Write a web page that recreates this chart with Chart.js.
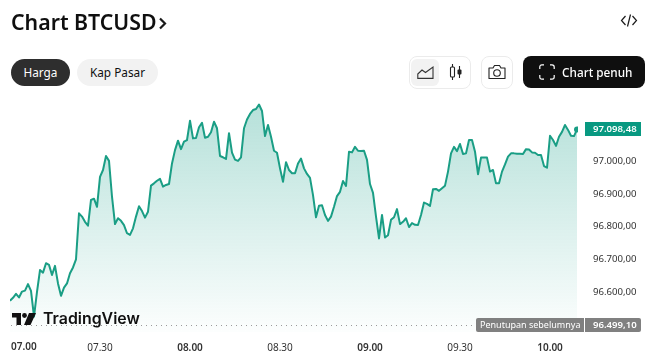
<!DOCTYPE html>
<html><head><meta charset="utf-8">
<style>
html,body{margin:0;padding:0;background:#fff;width:659px;height:362px;overflow:hidden;font-family:"Noto Sans",sans-serif}
#c{position:absolute;left:0;top:0;width:659px;height:362px}
.abs{position:absolute;box-sizing:border-box}
.pill{height:27px;top:59px;border-radius:14px;font-size:11.8px;line-height:27px;text-align:center}
svg{position:absolute;overflow:visible}
</style></head><body>
<div style="position:relative;width:659px;height:362px">
<canvas id="c" width="659" height="362"></canvas>
<div class="abs" style="left:11px;top:6px;font-size:21.3px;font-weight:600;color:#0f0f0f;line-height:32px;white-space:nowrap">Chart BTCUSD</div>
<svg style="left:158px;top:16px" width="10" height="14" viewBox="0 0 10 14"><path d="M2 2.5 L7 7.5 L2 12.5" fill="none" stroke="#1a1a1a" stroke-width="2.2"/></svg>
<svg style="left:620px;top:13px" width="18" height="15" viewBox="0 0 18 15"><path d="M5.5 3 L1.5 7.5 L5.5 12 M12.5 3 L16.5 7.5 L12.5 12 M10.5 1.5 L7.5 13.5" fill="none" stroke="#1a1a1a" stroke-width="1.2"/></svg>
<div class="abs pill" style="left:11px;width:59px;background:#2e2e2e;color:#fff">Harga</div>
<div class="abs pill" style="left:77px;width:81px;background:#f2f2f2;color:#0f0f0f">Kap Pasar</div>
<div class="abs" style="left:409px;top:56px;width:62px;height:33px;border:1px solid #ebebeb;border-radius:8px"></div>
<div class="abs" style="left:411px;top:59px;width:28px;height:27px;background:#f2f2f2;border-radius:6px"></div>
<svg style="left:417px;top:66px" width="17" height="13" viewBox="0 0 17 13"><path d="M.8 8 L5 4 L8.5 6.5 L16 1 V12.4 H.8 Z" fill="none" stroke="#333" stroke-width="1.1"/></svg>
<svg style="left:449px;top:64px" width="14" height="16" viewBox="0 0 14 16"><path d="M3.5 0 V16 M10.5 2 V14" stroke="#222" stroke-width="1.1"/><rect x="1.5" y="3" width="4" height="10" rx="1" fill="#fff" stroke="#222" stroke-width="1.1"/><rect x="8.5" y="5.5" width="4" height="5" rx="1" fill="#222"/></svg>
<div class="abs" style="left:481px;top:56px;width:32px;height:33px;border:1px solid #ebebeb;border-radius:8px"></div>
<svg style="left:488px;top:64px" width="18" height="16" viewBox="0 0 18 16"><path d="M1 4 H5 L6.5 1.5 H11.5 L13 4 H17 V14.5 H1 Z" fill="none" stroke="#222" stroke-width="1.1" stroke-linejoin="round"/><circle cx="9" cy="9" r="3.3" fill="none" stroke="#222" stroke-width="1.1"/></svg>
<div class="abs" style="left:523px;top:56px;width:122px;height:32px;background:#0f0f0f;border-radius:8px"></div>
<svg style="left:539px;top:64px" width="16" height="16" viewBox="0 0 16 16"><path d="M.8 5 V3 Q.8 .8 3 .8 H5 M11 .8 H13 Q15.2 .8 15.2 3 V5 M15.2 11 V13 Q15.2 15.2 13 15.2 H11 M5 15.2 H3 Q.8 15.2 .8 13 V11" fill="none" stroke="#fff" stroke-width="1.2"/></svg>
<div class="abs" style="left:562px;top:56px;height:32px;line-height:32px;font-size:11.8px;font-weight:500;color:#fff;white-space:nowrap">Chart penuh</div>
<svg style="left:12px;top:313px" width="24" height="12" viewBox="0 0 24 12"><path d="M0 0 H9 V12 H4.5 V4.5 H0 Z M17 0 H24 L18.5 12 H12 Z" fill="#111"/><circle cx="12.5" cy="2.5" r="2.4" fill="#111"/></svg>
<div class="abs" style="left:43px;top:308px;font-family:Inter,sans-serif;font-size:15.9px;font-weight:600;line-height:22px;color:#111;white-space:nowrap">TradingView</div>
</div>
<script src="https://cdn.jsdelivr.net/npm/chart.js@4/dist/chart.umd.min.js"></script>
<script>
const xTickMinutes = [0, 30, 60, 90, 120, 150, 180];
const xTickLabels = ["07.00", "07.30", "08.00", "08.30", "09.00", "09.30", "10.00"];
const yTickValues = [96600, 96700, 96800, 96900, 97000];
const previousClose = 96499.10;
const lastPrice = 97098.48;
const prices = [
96573,96582,96594,96583,96601,96604,96624,96603,96524,96600,
96667,96659,96688,96683,96652,96680,96626,96588,96613,96626,
96657,96675,96700,96841,96831,96815,96803,96882,96886,96861,
96953,96974,97017,97002,96892,96808,96826,96818,96805,96780,
96775,96795,96831,96863,96848,96828,96846,96926,96933,96941,
96947,96923,96928,96931,96994,97035,97064,97038,97061,97066,
97125,97071,97072,97105,97119,97073,97076,97090,97122,97102,
97017,97013,97008,97087,97027,97006,97002,97013,97102,97129,
97146,97158,97161,97175,97155,97078,97112,97076,97033,97027,
96979,96938,96998,96974,96964,96964,96994,97009,96979,96962,
96950,96897,96829,96864,96866,96836,96818,96831,96861,96894,
96907,96940,96925,97030,97028,97045,97033,97032,97033,97005,
96931,96904,96831,96764,96836,96767,96774,96821,96829,96854,
96808,96815,96826,96799,96811,96806,96805,96836,96874,96870,
96864,96915,96916,96910,96918,96926,96969,97025,97045,97032,
97054,97023,97025,97066,97066,97030,96961,97012,97012,97012,
96969,96974,96933,96933,96969,96991,97015,97025,97025,97024,
97024,97023,97038,97037,97028,97027,97020,97020,96986,96981,
97079,97066,97048,97076,97091,97112,97097,97079,97078,lastPrice
];
const minutes = prices.map((_, i) => i);
const LINE = "#1a9e85", TAG_GREEN = "#089981", TAG_GREY = "#808080";
const fmt = v => v.toLocaleString("de-DE", {minimumFractionDigits: 2, maximumFractionDigits: 2});
const tickFont = "Noto Sans";

const overlay = {
  id: "overlay",
  afterDatasetsDraw(chart) {
    const {ctx, scales: {x, y}} = chart;
    ctx.save();
    const py = Math.round(y.getPixelForValue(previousClose));
    ctx.strokeStyle = "#9a9a9a"; ctx.lineWidth = 1; ctx.setLineDash([1, 4]);
    ctx.beginPath(); ctx.moveTo(11, py + .5); ctx.lineTo(476, py + .5); ctx.stroke();
    ctx.setLineDash([]);
    ctx.textBaseline = "middle";
    ctx.fillStyle = TAG_GREY;
    ctx.beginPath(); ctx.roundRect(476, py - 7, 108, 14, [2, 0, 0, 2]); ctx.fill();
    ctx.beginPath(); ctx.roundRect(585, py - 7, 56, 14, [0, 2, 2, 0]); ctx.fill();
    ctx.fillStyle = "#fff"; ctx.textAlign = "left";
    ctx.font = "9px " + tickFont;
    ctx.fillText("Penutupan sebelumnya", 480, py + .5);
    ctx.font = "600 9.6px " + tickFont;
    ctx.fillText(fmt(previousClose), 593, py + .5);
    const ly = Math.round(y.getPixelForValue(lastPrice));
    ctx.fillStyle = TAG_GREEN;
    ctx.fillRect(585, ly - 7, 56, 14);
    ctx.fillStyle = "#fff";
    ctx.font = "600 9.6px " + tickFont;
    ctx.fillText(fmt(lastPrice), 593, ly + .5);
    ctx.fillStyle = "#333"; ctx.font = "600 10px " + tickFont;
    ctx.fillText(xTickLabels[0], x.getPixelForValue(xTickMinutes[0]) + 1, 347);
    ctx.restore();
  }
};

new Chart(document.getElementById("c"), {
  type: "line",
  data: {
    labels: minutes,
    datasets: [{
      data: prices.map((v, i) => ({x: minutes[i], y: v})),
      parsing: false,
      borderColor: LINE,
      borderWidth: 2,
      borderJoinStyle: "round",
      tension: 0,
      fill: "start",
      backgroundColor(c) {
        const a = c.chart.chartArea;
        if (!a) return "rgba(8,153,129,.3)";
        const g = c.chart.ctx.createLinearGradient(0, 100, 0, a.bottom);
        g.addColorStop(0, "rgba(8,153,129,.30)");
        g.addColorStop(1, "rgba(8,153,129,.01)");
        return g;
      },
      pointRadius: c => c.dataIndex === prices.length - 1 ? 3 : 0,
      pointBackgroundColor: LINE,
      pointBorderWidth: 0,
      pointHoverRadius: 0
    }]
  },
  options: {
    responsive: false,
    animation: false,
    events: [],
    devicePixelRatio: 1,
    layout: {padding: {left: 10, top: 96, right: 0, bottom: 0}},
    plugins: {legend: {display: false}, tooltip: {enabled: false}},
    scales: {
      x: {
        type: "linear",
        min: 0,
        max: 189.33,
        border: {display: false},
        grid: {display: false, drawTicks: false},
        afterBuildTicks(s) { s.ticks = xTickMinutes.map(v => ({value: v})); },
        afterFit(s) { s.height = 30; s.paddingLeft = 0; s.paddingRight = 0; },
        ticks: {
          autoSkip: false, maxRotation: 0, padding: 10,
          color: c => c.index === 0 ? "transparent" : "#333",
          font: c => ({family: tickFont, size: 10, weight: xTickMinutes[c.index] % 60 === 0 ? "600" : "400"}),
          callback: (v) => xTickLabels[xTickMinutes.indexOf(v)]
        }
      },
      y: {
        position: "right",
        min: 96477,
        max: 97201,
        border: {display: false},
        grid: {display: false, drawTicks: false},
        afterBuildTicks(s) { s.ticks = yTickValues.map(v => ({value: v})); },
        afterFit(s) { s.width = 81; },
        ticks: {
          padding: 15, color: "#333",
          font: {family: tickFont, size: 9.6},
          callback: v => fmt(v)
        }
      }
    }
  },
  plugins: [overlay]
});
</script>
</body></html>
